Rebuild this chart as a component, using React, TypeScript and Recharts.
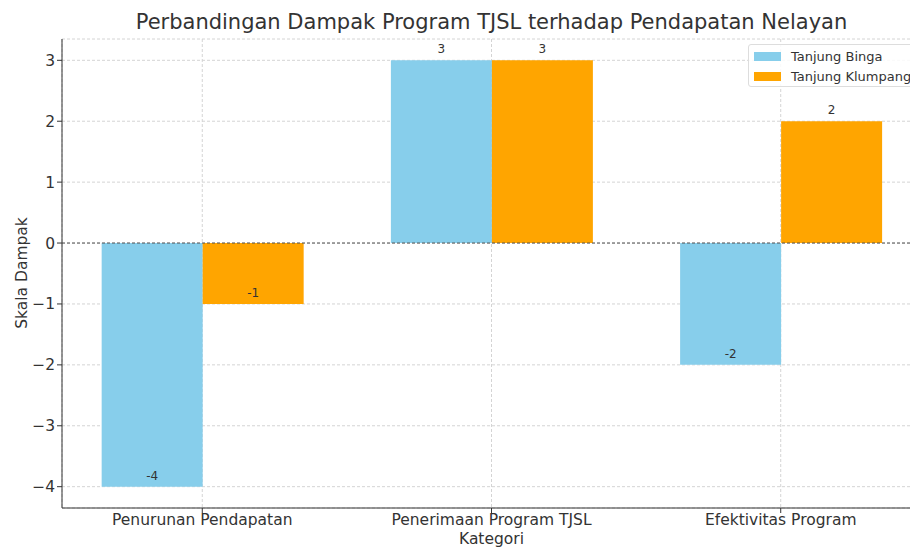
import { BarChart, Bar, XAxis, YAxis, CartesianGrid, ReferenceLine, LabelList, Label } from "recharts"

const categories = ["Penurunan Pendapatan", "Penerimaan Program TJSL", "Efektivitas Program"]
const tanjungBinga = [-4, 3, -2]
const tanjungKlumpang = [-1, 3, 2]
const yTicks = [-4, -3, -2, -1, 0, 1, 2, 3]

const data = categories.map((name, i) => ({
  idx: i,
  name,
  binga: tanjungBinga[i],
  klumpang: tanjungKlumpang[i],
}))

const font = "DejaVu Sans, sans-serif"
const BLUE = "#87CEEB"
const ORANGE = "#FFA500"

const fmtY = (v: number) => (v < 0 ? "\u2212" + Math.abs(v) : String(v))

const renderValue = (props: any) => {
  const { x, y, width, height, value } = props
  const top = Math.min(y, y + height)
  const bottom = Math.max(y, y + height)
  const end = value >= 0 ? top : bottom
  return (
    <text x={x + width / 2} y={end - 7} textAnchor="middle" fontSize={12} fill="#333" fontFamily={font}>
      {value}
    </text>
  )
}

export default function App() {
  return (
    <div style={{ position: "fixed", left: 0, top: 0, width: 910, height: 548, overflow: "hidden", background: "#fff", fontFamily: font }}>
      <div style={{ position: "absolute", left: 0, top: 10, width: 983, textAlign: "center", fontSize: 21, lineHeight: "25px", color: "#333", whiteSpace: "nowrap" }}>
        Perbandingan Dampak Program TJSL terhadap Pendapatan Nelayan
      </div>
      <div style={{ position: "absolute", left: 22, top: 273, transform: "translate(-50%, -50%) rotate(-90deg)", fontSize: 15.5, color: "#333", whiteSpace: "nowrap" }}>
        Skala Dampak
      </div>
      <BarChart width={930} height={548} data={data} barGap={0} margin={{ top: 39, right: 9, left: 12, bottom: 0 }}>
        <CartesianGrid strokeDasharray="3 2" stroke="#d4d4d4" />
        <XAxis
          type="number"
          dataKey="idx"
          domain={[-0.485, 2.485]}
          ticks={[0, 1, 2]}
          allowDataOverflow
          tickFormatter={(v: number) => categories[v]}
          tick={{ fill: "#333", fontSize: 15.5, fontFamily: font }}
          tickSize={5}
          tickMargin={1}
          stroke="#333"
          height={40}
        >
          <Label value="Kategori" position="insideBottom" offset={4} style={{ fill: "#333", fontSize: 15.5, fontFamily: font }} />
        </XAxis>
        <YAxis
          type="number"
          domain={[-4.35, 3.35]}
          ticks={yTicks}
          allowDataOverflow
          tickFormatter={fmtY}
          tick={{ fill: "#333", fontSize: 15.5, fontFamily: font }}
          tickSize={5}
          tickMargin={2}
          stroke="#333"
          width={50}
        />
        <ReferenceLine y={0} stroke="#555" strokeDasharray="3 2" strokeWidth={1} />
        <Bar dataKey="binga" name="Tanjung Binga" fill={BLUE} barSize={101} isAnimationActive={false}>
          <LabelList dataKey="binga" content={renderValue} />
        </Bar>
        <Bar dataKey="klumpang" name="Tanjung Klumpang" fill={ORANGE} barSize={101} isAnimationActive={false}>
          <LabelList dataKey="klumpang" content={renderValue} />
        </Bar>
      </BarChart>
      <div style={{ position: "absolute", left: 748, top: 44, width: 170, height: 43, boxSizing: "border-box", border: "1px solid #ddd", borderRadius: 3, background: "rgba(255,255,255,0.85)", fontSize: 13, color: "#333" }}>
        {[
          { label: "Tanjung Binga", color: BLUE },
          { label: "Tanjung Klumpang", color: ORANGE },
        ].map((item, i) => (
          <div key={item.label} style={{ position: "absolute", left: 5, top: 3 + i * 20, height: 16, display: "flex", alignItems: "center", whiteSpace: "nowrap" }}>
            <span style={{ display: "inline-block", width: 27, height: 9, background: item.color, marginRight: 10 }} />
            {item.label}
          </div>
        ))}
      </div>
    </div>
  )
}
